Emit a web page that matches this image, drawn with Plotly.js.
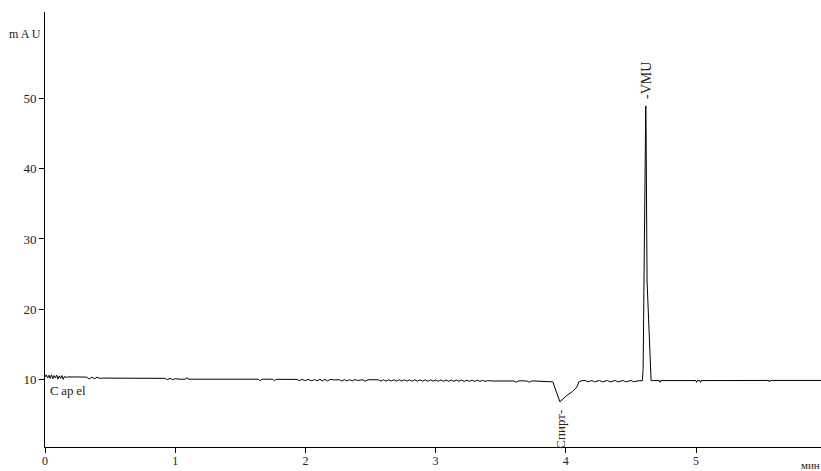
<!DOCTYPE html>
<html>
<head>
<meta charset="utf-8">
<script src="https://cdn.plot.ly/plotly-3.0.1.min.js"></script>
<style>html,body{margin:0;padding:0;background:#fff}#chart{width:821px;height:471px}</style>
</head>
<body>
<div id="chart"></div>
<script>
// retention time (min)
var timeMin = [
  0.00,0.01,0.02,0.03,0.04,0.05,0.06,0.07,0.08,0.09,0.10,0.11,0.12,0.13,0.14,0.15,0.16,0.18,
  0.25,0.32,0.34,0.36,0.38,0.40,0.42,0.45,0.60,0.80,0.92,0.94,0.96,0.98,1.00,1.03,
  1.08,1.09,1.10,1.64,1.65,1.67,1.75,1.76,1.78,1.94,1.95,1.97,2.00,2.02,2.05,2.07,
  2.09,2.11,2.13,2.15,2.17,2.19,2.22,2.26,2.28,2.30,2.32,2.34,2.36,2.38,2.40,2.44,
  2.46,2.48,2.52,2.56,2.58,2.60,2.62,2.64,2.66,2.68,2.70,2.72,2.74,2.76,2.78,2.80,
  2.82,2.84,2.86,2.88,2.90,2.92,2.94,2.96,2.98,3.00,3.02,3.04,3.06,3.08,3.10,3.12,
  3.14,3.16,3.18,3.20,3.22,3.24,3.26,3.28,3.30,3.32,3.34,3.36,3.38,3.40,3.45,3.60,
  3.62,3.64,3.70,3.72,3.74,3.85,3.90,3.955,4.01,4.05,4.085,4.10,4.12,4.15,4.17,4.20,
  4.22,4.26,4.28,4.32,4.34,4.38,4.40,4.44,4.46,4.50,4.52,4.56,4.588,4.594,4.601,4.614,
  4.617,4.624,4.647,4.655,4.72,4.725,4.73,5.00,5.005,5.01,5.03,5.035,5.04,5.56,5.565,
  5.57,5.96
];
// absorbance (mAU)
var signalMAU = [
  10.30,10.60,10.15,10.55,10.10,10.60,10.05,10.50,10.15,10.55,10.00,10.45,10.10,10.50,9.95,10.40,10.25,10.30,
  10.30,10.27,10.02,10.27,10.05,10.27,10.10,10.14,10.12,10.10,10.10,9.92,10.10,9.92,10.05,9.98,
  9.98,10.20,9.98,9.98,9.78,9.98,9.98,9.78,9.96,9.95,9.74,9.95,9.78,9.95,9.74,9.95,
  9.74,9.95,9.74,9.95,9.74,9.95,9.88,9.90,9.72,9.92,9.72,9.92,9.72,9.92,9.80,9.90,
  9.70,9.90,9.88,9.90,9.70,9.90,9.70,9.90,9.72,9.90,9.70,9.90,9.72,9.90,9.70,9.88,
  9.70,9.90,9.70,9.88,9.70,9.88,9.68,9.88,9.70,9.86,9.68,9.86,9.68,9.86,9.68,9.86,
  9.68,9.86,9.68,9.84,9.66,9.84,9.66,9.84,9.66,9.84,9.66,9.82,9.66,9.76,9.72,9.72,
  9.55,9.75,9.72,9.55,9.74,9.70,9.60,6.75,7.70,8.20,8.85,9.60,9.75,9.80,9.60,9.80,
  9.60,9.80,9.60,9.80,9.60,9.80,9.60,9.80,9.60,9.80,9.62,9.76,9.76,11.50,24.0,49.0,
  44.7,24.0,11.3,9.78,9.78,9.52,9.78,9.78,9.52,9.78,9.78,9.52,9.78,9.80,9.58,
  9.80,9.80
];
var xTickVals = [0,1,2,3,4,5];
var yTickVals = [10,20,30,40,50];
var peakLabels = ["Capel","Спирт-","-VMU"];

var serif = "Liberation Serif, Times New Roman, serif";

var trace = {
  x: timeMin, y: signalMAU, type: "scatter", mode: "lines",
  line: {color: "#000", width: 1}, hoverinfo: "skip"
};

var layout = {
  width: 821, height: 471,
  margin: {l: 45, r: 0, t: 12, b: 24, pad: 0},
  paper_bgcolor: "#fff", plot_bgcolor: "#fff",
  showlegend: false,
  font: {family: serif, size: 13, color: "#222"},
  xaxis: {
    range: [0, 5.96], tickvals: xTickVals, ticktext: xTickVals.map(String),
    showgrid: false, zeroline: false, showline: true, linecolor: "#000", linewidth: 1,
    ticks: "outside", ticklen: 5, tickcolor: "#000", ticklabelstandoff: -2,
    tickfont: {family: serif, size: 12, color: "#222"}
  },
  yaxis: {
    range: [0.3, 62.4], tickvals: yTickVals, ticktext: yTickVals.map(String),
    showgrid: false, zeroline: false, showline: true, linecolor: "#000", linewidth: 1,
    ticks: "outside", ticklen: 5, tickcolor: "#000", tickfont: {family: serif, size: 13, color: "#222"}
  },
  annotations: [
    {xref: "paper", yref: "paper", x: -0.003, y: 0.95, xanchor: "right", yanchor: "middle",
     text: "m\u2009A\u2009U", showarrow: false, font: {family: serif, size: 12, color: "#222"}},
    {xref: "x", yref: "y", x: 0.02, y: 8.3, xanchor: "left", yanchor: "middle",
     text: "C\u2009ap\u2009el", showarrow: false, font: {family: serif, size: 13, color: "#222"}},
    {xref: "x", yref: "y", x: 3.962, y: 2.9, xanchor: "center", yanchor: "middle", textangle: -90,
     text: peakLabels[1], showarrow: false, font: {family: serif, size: 13, color: "#222"}},
    {xref: "x", yref: "y", x: 4.618, y: 52.6, xanchor: "center", yanchor: "middle", textangle: -90,
     text: peakLabels[2], showarrow: false, font: {family: serif, size: 14, color: "#222"}},
    {xref: "x", yref: "paper", x: 5.79, y: -0.022, xanchor: "left", yanchor: "top",
     text: "мин", showarrow: false, font: {family: serif, size: 11, color: "#222"}}
  ]
};

Plotly.newPlot("chart", [trace], layout, {displayModeBar: false, staticPlot: true});
</script>
</body>
</html>
